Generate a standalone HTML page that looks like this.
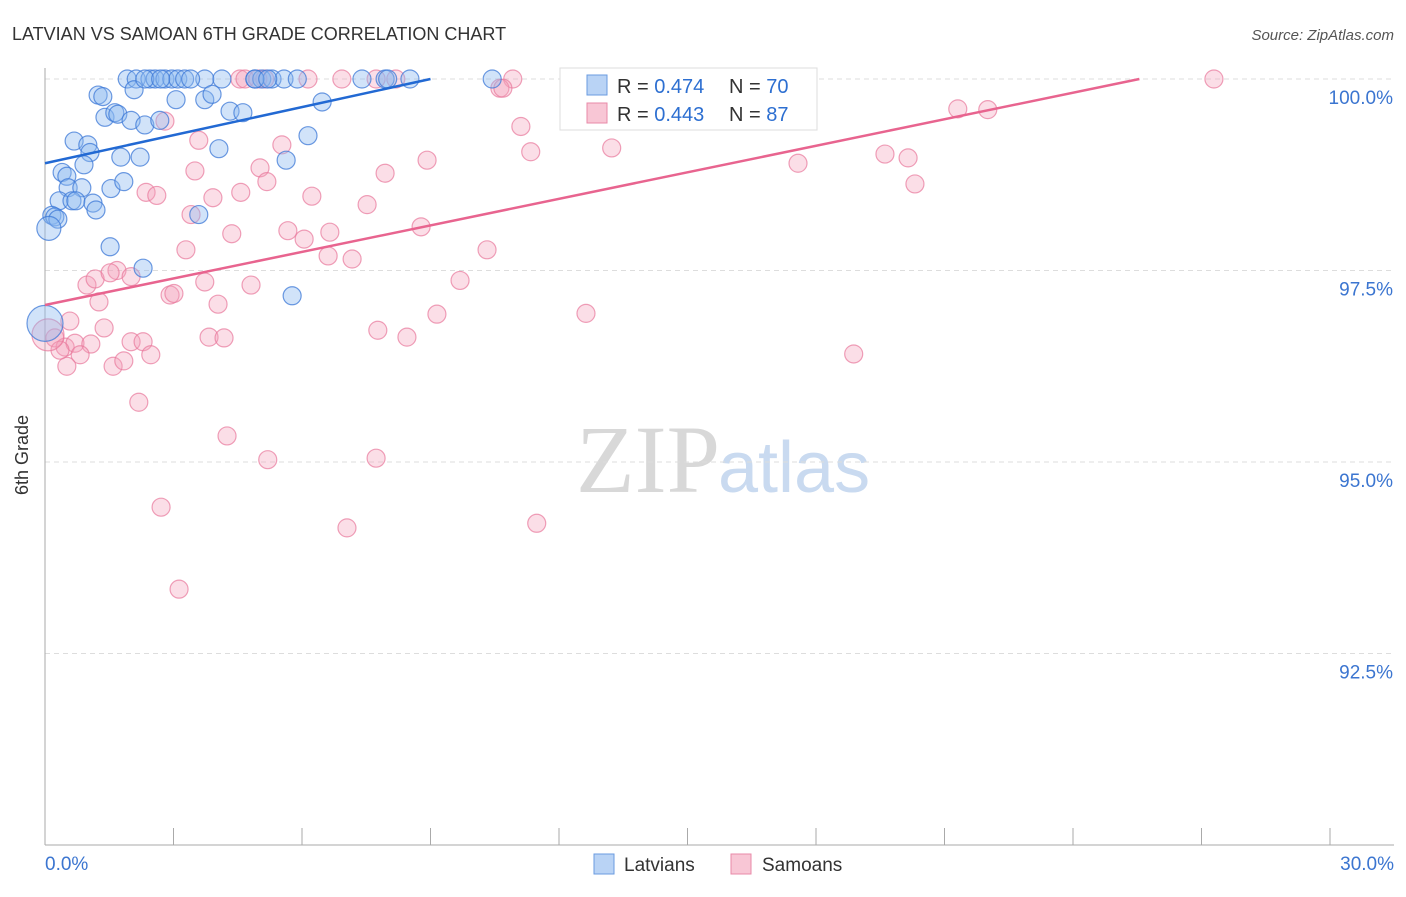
<!DOCTYPE html>
<html><head><meta charset="utf-8"><style>
body{margin:0;background:#fff;font-family:"Liberation Sans",sans-serif;}
</style></head><body>
<svg id="chart" width="1406" height="892" xmlns="http://www.w3.org/2000/svg">
<text x="12" y="40" font-size="18" fill="#333">LATVIAN VS SAMOAN 6TH GRADE CORRELATION CHART</text>
<text x="1394" y="40" font-size="15" fill="#555" font-style="italic" text-anchor="end">Source: ZipAtlas.com</text>
<text x="28" y="455" font-size="18" fill="#333" text-anchor="middle" transform="rotate(-90 28 455)">6th Grade</text>
<text x="720" y="492" font-size="96" fill="#d8d8d8" font-family="Liberation Serif,serif" text-anchor="end">ZIP</text>
<text x="718" y="492" font-size="72" fill="#c9daf0">atlas</text>
<g id="grid"></g><g id="axes"></g><g id="pts"></g><g id="lines"></g>
<g>
<rect x="560" y="68" width="257" height="62" fill="#fff" stroke="#ddd"/>
<rect x="587" y="75" width="20" height="20" fill="#b9d3f5" stroke="#6a9be0"/>
<rect x="587" y="103" width="20" height="20" fill="#f8c6d5" stroke="#e88aa8"/>
<text x="617" y="93" font-size="20" fill="#333">R = <tspan fill="#2d6fd1">0.474</tspan></text>
<text x="729" y="93" font-size="20" fill="#333">N = <tspan fill="#2d6fd1">70</tspan></text>
<text x="617" y="121" font-size="20" fill="#333">R = <tspan fill="#2d6fd1">0.443</tspan></text>
<text x="729" y="121" font-size="20" fill="#333">N = <tspan fill="#2d6fd1">87</tspan></text>
</g>
<g>
<rect x="594" y="854" width="20" height="20" fill="#b9d3f5" stroke="#6a9be0"/>
<text x="624" y="871" font-size="19" fill="#333">Latvians</text>
<rect x="731" y="854" width="20" height="20" fill="#f8c6d5" stroke="#e88aa8"/>
<text x="762" y="871" font-size="19" fill="#333">Samoans</text>
</g>
</svg>
<script>
const yTicks=[100,97.5,95,92.5];
const yTickLabels=["100.0%","97.5%","95.0%","92.5%"];
const xTickLabels=["0.0%","30.0%"];
const latX=[1.92,2.13,2.45,2.57,2.8,2.96,3.1,3.26,3.73,4.13,4.9,5.06,5.3,5.58,5.89,7.4,7.94,8.52,10.44,1.24,1.35,2.08,3.06,3.73,3.9,6.47,1.4,1.63,1.7,2.01,2.33,2.68,4.32,4.62,0.68,1.0,1.05,1.77,2.22,4.06,6.14,5.63,0.4,0.51,0.91,0.54,0.86,1.54,1.84,0.33,0.63,0.72,1.12,1.19,0.16,0.23,0.3,3.59,1.52,2.29,5.77,0.09,0,2.33,3.4,2.7,4.9,5.2,8.0];
const latY=[100,100,100,100,100,100,100,100,100,100,100,100,100,100,100,100,100,100,100,99.79,99.77,99.86,99.73,99.73,99.8,99.7,99.5,99.56,99.54,99.46,99.4,99.46,99.58,99.56,99.19,99.14,99.04,98.98,98.98,99.09,99.26,98.94,98.78,98.73,98.88,98.58,98.58,98.57,98.66,98.41,98.41,98.41,98.38,98.29,98.22,98.2,98.17,98.23,97.81,97.53,97.17,98.05,96.81,100,100,100,100,100,100];
const latR=[9,9,9,9,9,9,9,9,9,9,9,9,9,9,9,9,9,9,9,9,9,9,9,9,9,9,9,9,9,9,9,9,9,9,9,9,9,9,9,9,9,9,9,9,9,9,9,9,9,9,9,9,9,9,9,9,9,9,9,9,9,12,18,9,9,9,9,9,9];
const samX=[4.55,4.67,4.97,5.13,6.14,6.93,7.73,8.19,10.92,12.35,13.98,14.78,27.29,10.62,10.69,21.31,22.01,2.8,3.59,5.53,5.02,3.5,5.18,2.36,2.61,3.92,4.57,6.23,7.94,8.92,11.34,13.23,11.11,17.58,19.61,20.15,20.31,3.41,4.36,5.67,6.05,6.65,7.52,8.78,3.29,6.61,7.17,10.32,1.68,2.01,0.98,1.17,1.52,2.92,3.73,4.81,1.26,4.04,9.69,0.58,1.38,3.01,3.83,4.18,7.77,8.45,9.15,12.63,18.88,0.23,0.47,0.7,1.07,0.35,0.82,0.51,1.59,1.84,2.01,2.29,2.47,2.19,4.25,5.2,7.73,2.71,7.05,11.48,3.13,0.07];
const samY=[100,100,100,100,100,100,100,100,100,100,100,100,100,99.88,99.88,99.61,99.6,99.45,99.2,99.14,98.84,98.8,98.66,98.52,98.48,98.45,98.52,98.47,98.77,98.94,99.05,99.1,99.38,98.9,99.02,98.97,98.63,98.23,97.98,98.02,97.91,98.0,98.36,98.07,97.77,97.69,97.65,97.77,97.5,97.42,97.31,97.39,97.47,97.18,97.35,97.31,97.09,97.06,97.37,96.84,96.75,97.2,96.63,96.62,96.72,96.63,96.93,96.94,96.41,96.62,96.5,96.55,96.54,96.46,96.4,96.25,96.25,96.32,96.57,96.57,96.4,95.78,95.34,95.03,95.05,94.41,94.14,94.2,93.34,96.66];
const latLine=[0,98.9,9.0,100];
const samLine=[0,97.05,25.55,100];
const X=v=>45+v/30*1285, Y=v=>79+(100-v)/10*766;
const NS="http://www.w3.org/2000/svg";
function mk(tag,attrs,parent){const e=document.createElementNS(NS,tag);for(const k in attrs)e.setAttribute(k,attrs[k]);document.getElementById(parent).appendChild(e);return e;}
yTicks.forEach((t,i)=>{
 const g=mk('line',{x1:45,x2:1394,y1:Y(t),y2:Y(t),stroke:'#ddd','stroke-dasharray':'5,4'},'grid');
 
 
 const l=mk('text',{x:1393,y:Y(t)+25,'font-size':19,fill:'#3b75d0','text-anchor':'end'},'axes');
 l.textContent=yTickLabels[i];
 
 
});
mk('line',{x1:45,x2:45,y1:68,y2:845,stroke:'#aaa'},'axes');
mk('line',{x1:45,x2:1394,y1:845,y2:845,stroke:'#aaa'},'axes');
for(let i=0;i<=10;i++){mk('line',{x1:X(i*3),x2:X(i*3),y1:828,y2:845,stroke:'#aaa'},'axes');}
[0,30].forEach((v,i)=>{
 const t=mk('text',{x:i?1394:45,y:870,'font-size':19,fill:'#3b75d0','text-anchor':i?'end':'start'},'axes');
 t.textContent=xTickLabels[i];
 
 
});
samX.forEach((x,i)=>{
 const c=mk('circle',{cx:X(x),cy:Y(samY[i]),r:i==samX.length-1?16:9,fill:'rgba(244,160,186,0.35)',stroke:'rgba(232,120,155,0.7)','stroke-width':1.2},'pts');
 
 
});
latX.forEach((x,i)=>{
 const c=mk('circle',{cx:X(x),cy:Y(latY[i]),r:latR[i],fill:'rgba(140,185,240,0.4)',stroke:'rgba(60,120,215,0.75)','stroke-width':1.2},'pts');
 
 
});
const l1=mk('line',{x1:X(latLine[0]),y1:Y(latLine[1]),x2:X(latLine[2]),y2:Y(latLine[3]),stroke:'#2269d3','stroke-width':2.5},'lines');


const l2=mk('line',{x1:X(samLine[0]),y1:Y(samLine[1]),x2:X(samLine[2]),y2:Y(samLine[3]),stroke:'#e8648f','stroke-width':2.5},'lines');


</script>
</body></html>
